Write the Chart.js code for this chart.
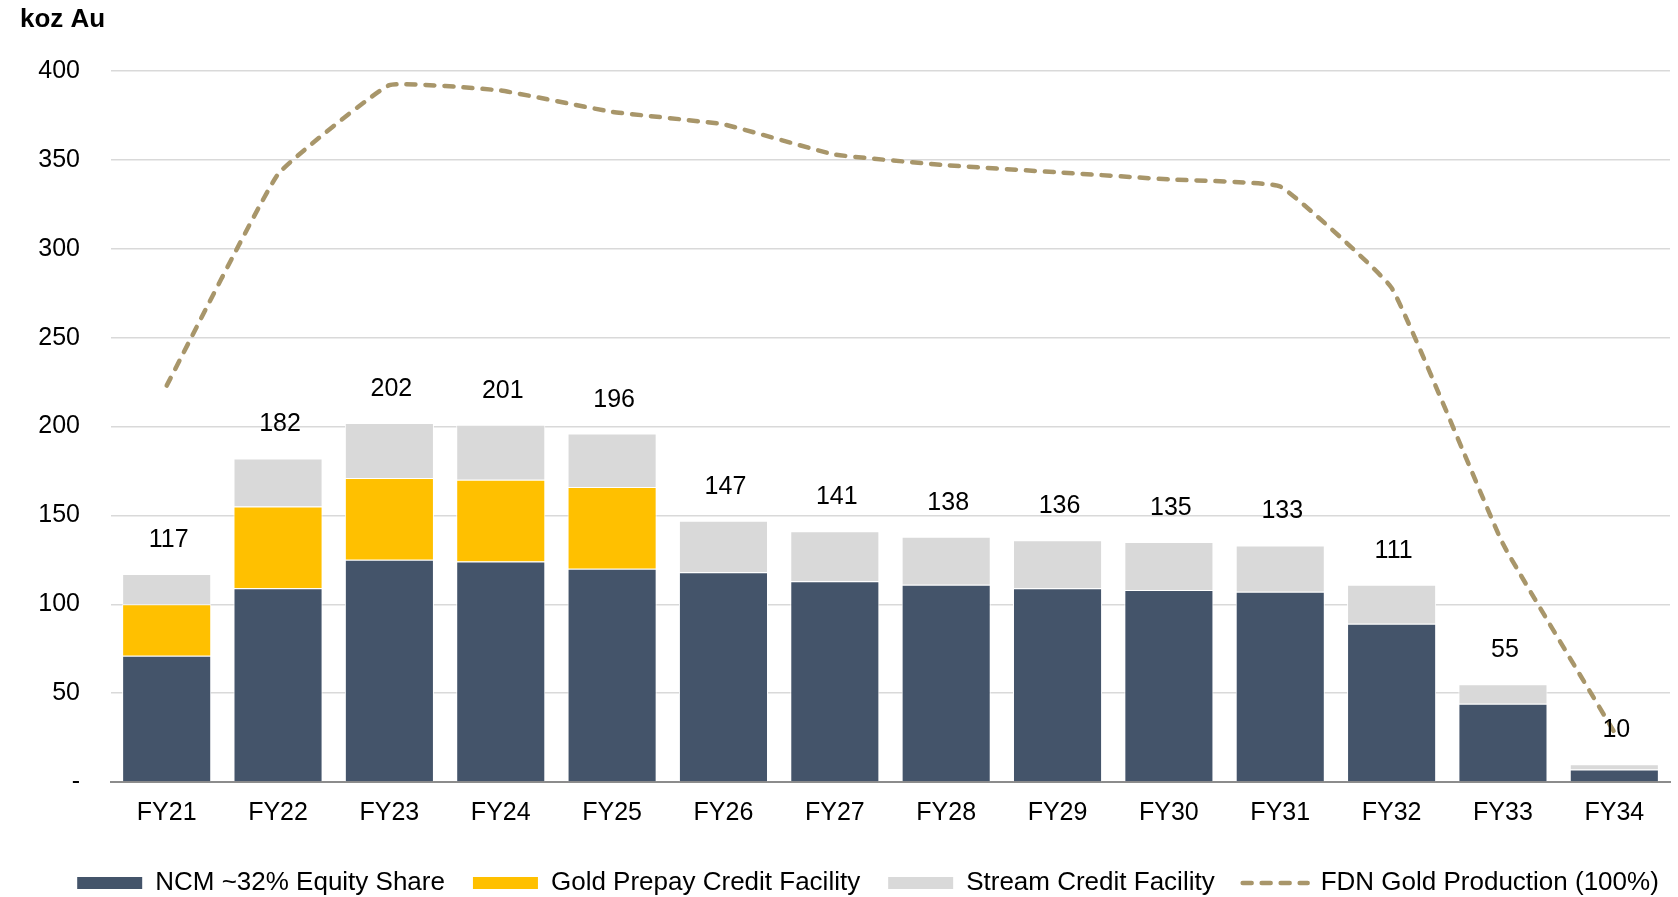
<!DOCTYPE html>
<html>
<head>
<meta charset="utf-8">
<title>FDN gold production and NCM attributable ounces</title>
<script src="https://cdn.jsdelivr.net/npm/chart.js@4/dist/chart.umd.min.js"></script>
<style>
  html, body { margin: 0; padding: 0; background: #fff; }
  #wrap { width: 1678px; height: 897px; position: relative; }
</style>
</head>
<body>
<div id="wrap"><canvas id="chart"></canvas></div>
<script>
// fiscal years on the x-axis
const years = ["FY21", "FY22", "FY23", "FY24", "FY25", "FY26", "FY27", "FY28", "FY29", "FY30", "FY31", "FY32", "FY33", "FY34"];

// koz Au attributable to NCM, stacked
const ncmEquity = [71, 109, 125, 124, 120, 118, 113, 111, 109, 108, 107, 89, 44, 7];
const goldPrepay = [29, 46, 46, 46, 46, null, null, null, null, null, null, null, null, null];
const streamCredit = [17, 27, 31, 31, 30, 29, 28, 27, 27, 27, 26, 22, 11, 3];

// total FDN production (100%), koz Au
const fdnProduction = [223, 342, 392, 389, 377, 370, 353, 347, 343, 339, 335, 278, 134, 28];

const yTicks = [0, 50, 100, 150, 200, 250, 300, 350, 400];

const FONT = "'Liberation Sans', Arial, sans-serif";
const NAVY = "#44546a";
const GOLD = "#ffc000";
const GREY = "#d9d9d9";
const TAN = "#a8966a";

const totals = years.map((_, i) => (ncmEquity[i] || 0) + (goldPrepay[i] || 0) + (streamCredit[i] || 0));

// stack totals above each column
const totalLabels = {
  id: "totalLabels",
  afterDatasetsDraw(chart) {
    const { ctx, scales: { x, y } } = chart;
    ctx.save();
    ctx.font = "25px " + FONT;
    ctx.fillStyle = "#000";
    ctx.textAlign = "center";
    ctx.textBaseline = "middle";
    totals.forEach((t, i) => {
      ctx.fillText(String(t), x.getPixelForValue(i) + 2, y.getPixelForValue(t) - 34);
    });
    ctx.restore();
  }
};

// unit caption in the top-left corner
const unitCaption = {
  id: "unitCaption",
  afterDraw(chart) {
    const { ctx } = chart;
    ctx.save();
    ctx.font = "bold 26px " + FONT;
    ctx.fillStyle = "#000";
    ctx.textAlign = "left";
    ctx.textBaseline = "middle";
    ctx.fillText("koz Au", 20, 20);
    ctx.restore();
  }
};

// nudge the legend row a little to the right of centre
const legendShift = {
  id: "legendShift",
  afterLayout(chart) {
    if (chart.legend) {
      chart.legend.left += 23;
      chart.legend.right += 23;
    }
  }
};

const barStyle = { borderColor: "#fff", borderWidth: 1, barPercentage: 0.8, categoryPercentage: 1, stack: "ncm" };

new Chart(document.getElementById("chart"), {
  data: {
    labels: years,
    datasets: [
      Object.assign({ type: "bar", label: "NCM ~32% Equity Share", data: ncmEquity, backgroundColor: NAVY }, barStyle),
      Object.assign({ type: "bar", label: "Gold Prepay Credit Facility", data: goldPrepay, backgroundColor: GOLD }, barStyle),
      Object.assign({ type: "bar", label: "Stream Credit Facility", data: streamCredit, backgroundColor: GREY }, barStyle),
      {
        type: "line",
        label: "FDN Gold Production (100%)",
        data: fdnProduction,
        borderColor: TAN,
        backgroundColor: TAN,
        borderWidth: 4.5,
        borderDash: [9, 10],
        borderCapStyle: "round",
        pointRadius: 0,
        tension: 0.1,
        order: -1
      }
    ]
  },
  options: {
    responsive: true,
    maintainAspectRatio: false,
    animation: false,
    layout: { padding: { left: 20, right: 8, top: 71, bottom: -9 } },
    scales: {
      x: {
        stacked: true,
        grid: { display: false, drawTicks: false },
        border: { display: true, color: "#8c8c8c", width: 2 },
        ticks: { color: "#000", font: { family: FONT, size: 25 }, padding: 16 },
        afterFit(scale) { scale.height = 60; }
      },
      y: {
        stacked: true,
        min: 0,
        max: 400,
        afterBuildTicks(scale) { scale.ticks = yTicks.map(v => ({ value: v })); },
        grid: { color: "#d9d9d9", lineWidth: 1.5, drawTicks: false },
        border: { display: false },
        ticks: {
          color: "#000",
          font: { family: FONT, size: 25 },
          padding: 31,
          callback: v => (v === 0 ? "-" : v)
        },
        afterFit(scale) { scale.width = 91; }
      }
    },
    plugins: {
      tooltip: { enabled: false },
      legend: {
        position: "bottom",
        labels: {
          color: "#000",
          font: { family: FONT, size: 26 },
          usePointStyle: true,
          pointStyleWidth: 65,
          boxHeight: 12,
          padding: 28,
          sort: (a, b) => a.datasetIndex - b.datasetIndex,
          generateLabels(chart) {
            const items = Chart.defaults.plugins.legend.labels.generateLabels(chart);
            items.forEach(it => {
              const ds = chart.data.datasets[it.datasetIndex];
              if (ds.type === "line") {
                it.pointStyle = "line";
                it.lineWidth = 4.5;
                it.lineDash = [9, 10];
                it.lineCap = "round";
              } else {
                it.pointStyle = "rect";
                it.lineWidth = 0;
              }
            });
            return items;
          }
        }
      }
    }
  },
  plugins: [totalLabels, unitCaption, legendShift]
});
</script>
</body>
</html>
